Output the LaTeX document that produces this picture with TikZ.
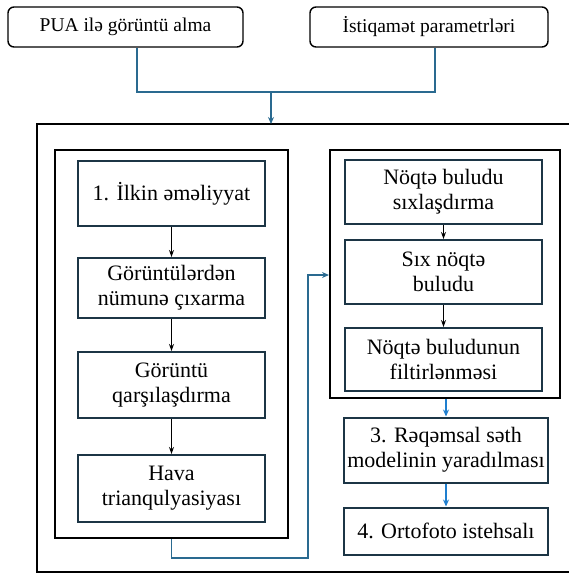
\documentclass[tikz,border=0pt]{standalone}
\usepackage{fontspec}
\setmainfont{Liberation Serif}
\usetikzlibrary{arrows.meta}
\definecolor{navy}{HTML}{1C3545}
\definecolor{conn}{HTML}{2A6A90}
\definecolor{brightblue}{HTML}{1F7FCF}
\begin{document}
\begin{tikzpicture}[x=1pt,y=-1pt,
  topbox/.style={draw=black,line width=1.4pt,rounded corners=6pt,fill=white,font=\fontsize{19.5}{23}\selectfont,inner sep=0pt},
  frame/.style={draw=black,line width=2pt,inner sep=0pt},
  stepbox/.style={draw=navy,line width=2pt,fill=white,align=center,font=\fontsize{22}{25}\selectfont,inner sep=0pt},
  blk/.style={draw=black,line width=1.2pt,-{Stealth[length=7pt,width=5pt]}},
  conline/.style={draw=conn,line width=1.8pt},
  conarrow/.style={draw=conn,line width=1.8pt,-{Stealth[length=7pt,width=6pt]}},
  barrow/.style={draw=brightblue,line width=1.4pt,-{Stealth[length=7pt,width=6pt]}}
]
\useasboundingbox (0,0) rectangle (569,576);
% top boxes
\node[topbox,minimum width=235,minimum height=40] (pua) at (125.5,27) {PUA ilə görüntü alma};
\node[topbox,minimum width=238,minimum height=40] (ist) at (429,27) {İstiqamət parametrləri};
% outer frame
\coordinate (otop) at (271,124);
\draw[black,line width=1.6pt] (570,124) -- (37,124) -- (37,572) -- (570,572);
\coordinate (join) at (271,92);
\draw[conline] (pua.south -| 137,0) |- (435,92) -- (ist.south -| 435,0);
\draw[conarrow] (join) -- (otop);
% left container
\node[frame,minimum width=233,minimum height=388] (lc) at (171.5,344) {};
\node[stepbox,minimum width=187,minimum height=65] (b1) at (171.5,193.5) {1. İlkin əməliyyat};
\node[stepbox,minimum width=187,minimum height=60] (b2) at (171.5,288) {Görüntülərdən\\nümunə çıxarma};
\node[stepbox,minimum width=187,minimum height=66] (b3) at (171.5,385) {Görüntü\\qarşılaşdırma};
\node[stepbox,minimum width=187,minimum height=67] (b4) at (171.5,488.5) {Hava\\trianqulyasiyası};
\draw[blk] (b1) -- (b2);
\draw[blk] (b2) -- (b3);
\draw[blk] (b3) -- (b4);
% right container
\node[frame,minimum width=230,minimum height=248] (rc) at (445,274) {};
\node[stepbox,minimum width=197,minimum height=64] (r1) at (443.5,192) {Nöqtə buludu\\sıxlaşdırma};
\node[stepbox,minimum width=197,minimum height=64] (r2) at (443.5,272) {Sıx nöqtə\\buludu};
\node[stepbox,minimum width=197,minimum height=63] (r3) at (443.5,359.5) {Nöqtə buludunun\\filtirlənməsi};
\draw[blk] (r1) -- (r2);
\draw[blk] (r2) -- (r3);
\node[stepbox,minimum width=204,minimum height=65] (r4) at (446,450) {3. Rəqəmsal səth\\modelinin yaradılması};
\node[stepbox,minimum width=204,minimum height=47] (r5) at (446,531) {4. Ortofoto istehsalı};
\draw[barrow] (rc.south -| r4.north) -- (r4.north);
\draw[barrow] (r4) -- (r5);
% connector left container -> right container
\coordinate (c1) at (171.5,558);
\coordinate (c2) at (308,558);
\draw[conarrow] (lc.south) -- (c1) -- (c2) |- (rc.west |- 0,275);
\end{tikzpicture}
\end{document}
